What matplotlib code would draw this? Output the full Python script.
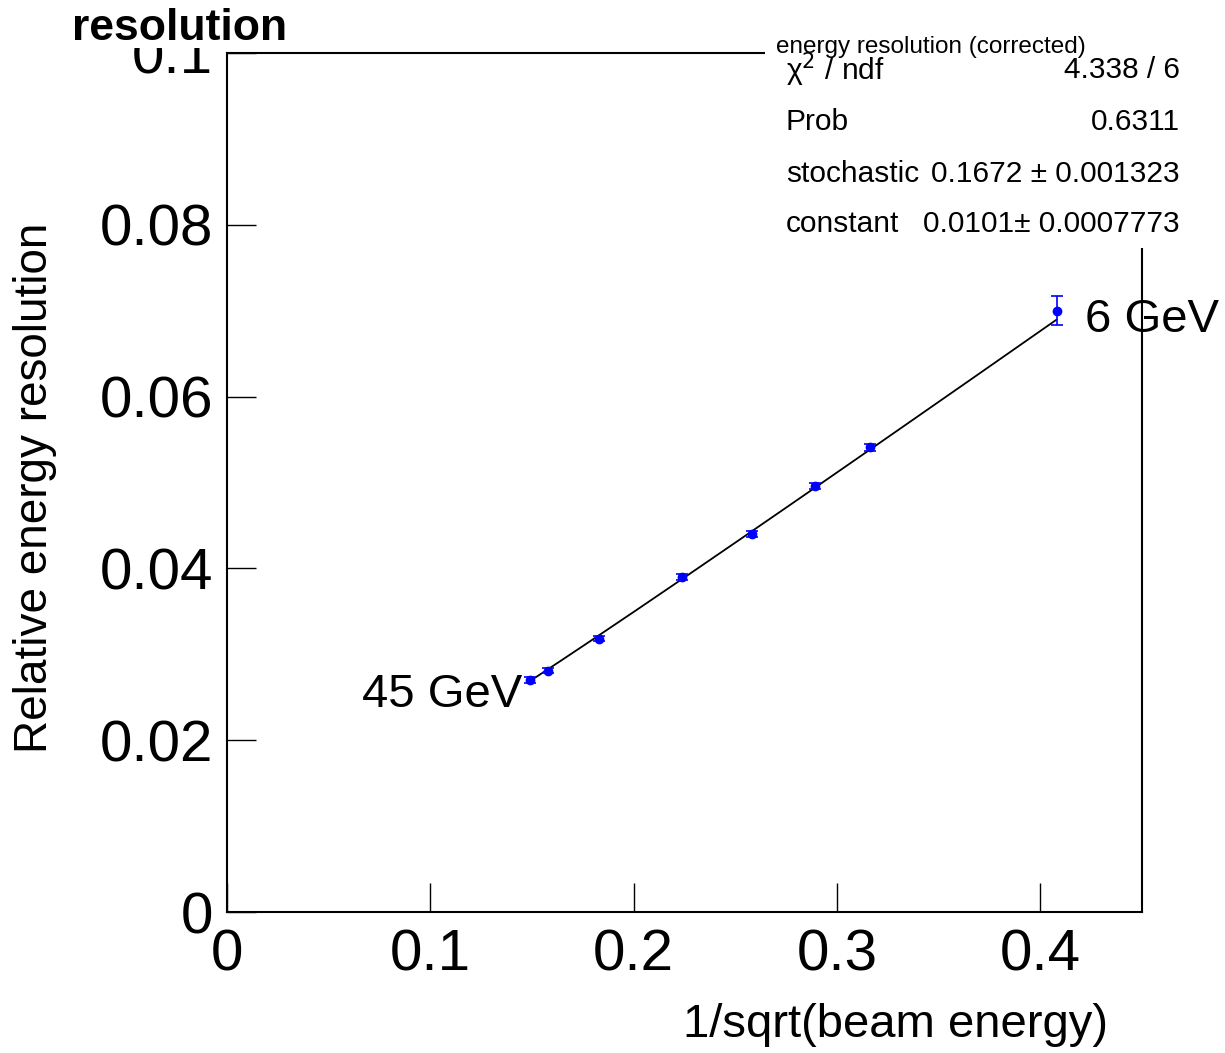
import matplotlib.pyplot as plt
from matplotlib.patches import Rectangle
import numpy as np

plt.rcParams['font.family'] = ['Liberation Sans', 'DejaVu Sans']

# beam energies of the points and their resolution
inv_sqrt_e = [0.149, 0.158, 0.183, 0.224, 0.258, 0.289, 0.316, 0.408]
resolution = [0.0270, 0.0281, 0.0318, 0.0390, 0.0440, 0.0496, 0.0541, 0.0700]
res_err = [0.0003, 0.0003, 0.0003, 0.0003, 0.0003, 0.0004, 0.0004, 0.0017]

# fit parameters from the stats box
stochastic = 0.1672
constant = 0.0101

x_ticks = [0, 0.1, 0.2, 0.3, 0.4]
y_ticks = [0, 0.02, 0.04, 0.06, 0.08, 0.1]
y_tick_labels = ["0", "0.02", "0.04", "0.06", "0.08", "0.1"]

W, H = 1225, 1053
fig = plt.figure(figsize=(W / 100, H / 100), dpi=100)
ax = fig.add_axes([227 / W, 1 - 912 / H, (1142 - 227) / W, (912 - 53) / H])

# fit curve
xf = np.linspace(inv_sqrt_e[0], inv_sqrt_e[-1], 200)
yf = np.sqrt((stochastic * xf) ** 2 + constant ** 2)
ax.plot(xf, yf, color="black", lw=1.3, zorder=3)

ax.errorbar(inv_sqrt_e, resolution, yerr=res_err, fmt="o", color="blue",
            ms=6, elinewidth=1.2, capsize=4, capthick=1.2, zorder=4)

ax.set_xlim(0, 0.45)
ax.set_ylim(0, 0.1)
ax.set_xticks(x_ticks)
ax.set_xticklabels(["0", "0.1", "0.2", "0.3", "0.4"])
ax.set_yticks(y_ticks)
ax.set_yticklabels(y_tick_labels)
ax.tick_params(axis="both", direction="in", length=21, width=1,
               labelsize=42)
ax.tick_params(axis="x", pad=12)
ax.tick_params(axis="y", pad=10)
for side in ["top", "right", "left", "bottom"]:
    ax.spines[side].set_linewidth(1.5)

ax.text(0.149 - 0.004, 0.0253, "45 GeV", fontsize=34, ha="right",
        va="center", zorder=2)
ax.text(0.422, 0.0689, "6 GeV", fontsize=34, ha="left", va="center",
        zorder=2)

fig.text(35 / W, 1 - 488 / H, "Relative energy resolution", fontsize=33,
         rotation=90, ha="center", va="center")
fig.text(1108 / W, 1 - 1025 / H, "1/sqrt(beam energy)", fontsize=34,
         ha="right", va="center")

# white patch hiding top of the 0.1 label, then the title
fig.patches.append(Rectangle((0, 1 - 48 / H), 300 / W, 48 / H,
                             transform=fig.transFigure, facecolor="white",
                             edgecolor="none", zorder=5))
fig.text(72 / W, 1 - 28 / H, "resolution", fontsize=32, fontweight="bold",
         ha="left", va="center", zorder=6)

# stats box
fig.patches.append(Rectangle((765 / W, 1 - 248 / H), (W - 765) / W,
                             (248 - 30) / H, transform=fig.transFigure,
                             facecolor="white", edgecolor="none", zorder=5))
rows = [
    ("χ$^{2}$ / ndf", "4.338 / 6"),
    ("Prob", "0.6311"),
    ("stochastic", "0.1672 ± 0.001323"),
    ("constant", "0.0101± 0.0007773"),
]
row_y = [70, 122, 174, 224]
for (lab, val), yy in zip(rows, row_y):
    fig.text(786 / W, 1 - yy / H, lab, fontsize=21.5, ha="left",
             va="center", zorder=6)
    fig.text(1180 / W, 1 - yy / H, val, fontsize=21.5, ha="right",
             va="center", zorder=6)
fig.text(776 / W, 1 - 47 / H, "energy resolution (corrected)", fontsize=17.5,
         ha="left", va="center", zorder=7)

fig.savefig("out.png", dpi=100)
